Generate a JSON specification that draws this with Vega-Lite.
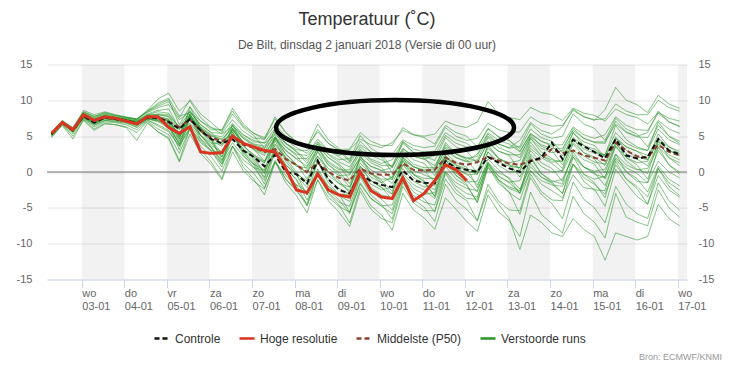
{
"$schema": "https://vega.github.io/schema/vega-lite/v6.json",
"width": 640,
"height": 215,
"autosize": {"type": "none"},
"padding": {"left": 47, "top": 64.5, "right": 45, "bottom": 86.5},
"background": "#ffffff",
"title": {"text": "Temperatuur (˚C)", "subtitle": "De Bilt, dinsdag 2 januari 2018 (Versie di 00 uur)", "anchor": "middle", "frame": "group", "font": "Liberation Sans", "fontSize": 18, "fontWeight": "normal", "color": "#333333", "subtitleFont": "Liberation Sans", "subtitleFontSize": 12, "subtitleColor": "#555555", "offset": 8, "subtitlePadding": 11},
"datasets": {
"bands": [{"a":24,"b":48},{"a":72,"b":96},{"a":120,"b":144},{"a":168,"b":192},{"a":216,"b":240},{"a":264,"b":288},{"a":312,"b":336},{"a":360,"b":384}],
"runs": [
{"s":"Verstoorde runs","m":"a","t":[7,13,19,25,31,37,43,49,55,61,67,73,79,85,91,97,103,109,115,121,127,133,139,145,151,157,163,169,175,181,187,193,199,205,211,217,223,229,235,241,247,253,259,265,271,277,283,289,295,301,307,313,319,325,331,337,343,349,355,361],"v":[5.2,6.8,5.9,8.1,7.3,7.9,7.6,7.4,7.1,8.0,8.4,8.2,6.1,7.6,6.1,5.1,4.6,6.1,4.7,3.8,3.3,4.9,3.5,2.5,2.3,3.9,2.5,1.7,1.9,3.8,2.8,2.3,2.4,4.5,3.7,3.4,3.6,6.2,5.0,4.4,4.7,6.8,5.9,5.5,5.6,7.7,6.8,6.4,6.5,8.6,7.7,7.3,7.4,9.5,8.5,8.0,8.0,10.0,9.0,8.5]},
{"s":"Verstoorde runs","m":"b","t":[7,13,19,25,31,37,43,49,55,61,67,73,79,85,91,97,103,109,115,121,127,133,139,145,151,157,163,169,175,181,187,193,199,205,211,217,223,229,235,241,247,253,259,265,271,277,283,289,295,301,307,313,319,325,331,337,343,349,355,361],"v":[5.4,7.0,6.1,8.4,7.8,8.2,7.9,7.6,7.3,8.5,9.6,10.3,7.8,8.3,6.6,5.5,5.4,7.3,5.7,4.7,4.6,6.6,5.0,3.9,3.6,5.6,4.0,3.1,3.2,5.5,4.3,3.7,3.7,6.2,5.2,4.8,3.9,6.5,5.5,5.0,3.5,6.0,4.9,4.4,2.9,5.4,4.3,3.8,3.8,6.3,5.2,4.7,5.2,7.7,6.5,5.9,5.8,8.2,7.0,6.4]},
{"s":"Verstoorde runs","m":"c","t":[7,13,19,25,31,37,43,49,55,61,67,73,79,85,91,97,103,109,115,121,127,133,139,145,151,157,163,169,175,181,187,193,199,205,211,217,223,229,235,241,247,253,259,265,271,277,283,289,295,301,307,313,319,325,331,337,343,349,355,361],"v":[5.1,6.7,5.6,7.6,6.6,7.2,7.0,6.8,6.3,7.3,6.4,5.6,3.6,8.1,5.1,3.4,1.1,5.6,2.7,1.0,-1.7,2.9,0.0,-1.8,-4.7,-0.1,-3.0,-4.6,-7.1,-2.2,-4.7,-6.0,-8.1,-3.0,-5.3,-6.4,-8.0,-3.6,-5.2,-6.9,-8.3,-3.2,-5.6,-6.8,-9.0,-2.8,-5.9,-7.2,-8.5,-3.4,-5.8,-7.0,-9.2,-3.0,-6.3,-7.0,-7.5,-2.5,-5.0,-6.3]},
{"s":"Verstoorde runs","m":"d","t":[7,13,19,25,31,37,43,49,55,61,67,73,79,85,91,97,103,109,115,121,127,133,139,145,151,157,163,169,175,181,187,193,199,205,211,217,223,229,235,241,247,253,259,265,271,277,283,289,295,301,307,313,319,325,331,337,343,349,355,361],"v":[5.3,6.9,5.8,7.9,7.0,7.7,7.5,7.3,6.9,7.8,7.8,7.3,5.1,7.6,5.6,4.4,3.6,6.1,4.2,3.1,2.3,4.9,3.0,1.8,0.8,3.4,1.5,0.5,-0.1,2.8,1.3,0.6,-1.1,2.0,0.7,0.2,-1.4,1.8,0.5,-0.2,-1.8,1.3,-0.1,-0.8,-2.4,0.7,-0.7,-1.4,-1.0,2.1,0.7,0.1,0.4,3.5,2.0,1.3,1.5,4.5,3.0,2.3]},
{"s":"Verstoorde runs","m":"e","t":[7,13,19,25,31,37,43,49,55,61,67,73,79,85,91,97,103,109,115,121,127,133,139,145,151,157,163,169,175,181,187,193,199,205,211,217,223,229,235,241,247,253,259,265,271,277,283,289,295,301,307,313,319,325,331,337,343,349,355,361],"v":[5.2,7.0,5.7,7.7,6.8,7.4,7.2,7.0,6.5,7.4,7.0,6.2,4.1,6.6,4.6,3.4,1.6,4.1,2.2,1.1,0.3,2.9,1.0,-0.3,-1.2,1.4,-0.5,-1.6,-2.1,0.8,-0.7,-1.5,-0.7,2.5,1.1,0.6,0.6,3.8,2.5,1.9,2.2,5.3,3.9,3.3,3.6,6.7,5.3,4.7,5.0,8.1,6.7,6.1,4.4,7.5,6.0,5.3,3.5,6.5,5.0,4.3]},
{"s":"Verstoorde runs","m":"f","t":[7,13,19,25,31,37,43,49,55,61,67,73,79,85,91,97,103,109,115,121,127,133,139,145,151,157,163,169,175,181,187,193,199,205,211,217,223,229,235,241,247,253,259,265,271,277,283,289,295,301,307,313,319,325,331,337,343,349,355,361],"v":[5.5,7.1,6.2,8.6,8.0,8.4,8.0,7.7,7.4,8.6,10.2,11.0,8.5,9.9,7.6,6.2,5.8,8.9,6.7,5.4,4.5,7.7,5.5,4.1,3.5,6.7,4.5,3.3,1.6,5.1,3.3,2.4,0.6,4.3,2.7,2.0,0.3,4.1,2.5,1.7,-0.1,3.6,1.9,1.1,-0.7,3.0,1.3,0.5,-1.3,2.4,0.7,-0.1,-1.9,1.8,0.0,-0.9,-2.8,0.8,-1.0,-1.9]},
{"s":"Verstoorde runs","m":"g","t":[7,13,19,25,31,37,43,49,55,61,67,73,79,85,91,97,103,109,115,121,127,133,139,145,151,157,163,169,175,181,187,193,199,205,211,217,223,229,235,241,247,253,259,265,271,277,283,289,295,301,307,313,319,325,331,337,343,349,355,361],"v":[5.0,6.6,5.3,7.4,6.3,7.0,6.9,6.6,5.9,7.1,6.0,5.2,2.6,6.1,3.6,2.1,0.1,3.6,1.2,-0.2,-2.2,1.4,-1.0,-2.5,-4.7,-1.1,-3.5,-4.8,-5.6,-1.7,-3.7,-4.7,-4.6,-0.5,-2.3,-3.1,-2.9,1.3,-0.5,-1.4,-1.3,2.8,0.9,0.0,0.1,4.2,2.3,1.4,1.5,5.6,3.7,2.8,2.4,6.5,4.5,3.5,3.0,7.0,5.0,4.0]},
{"s":"Verstoorde runs","m":"h","t":[7,13,19,25,31,37,43,49,55,61,67,73,79,85,91,97,103,109,115,121,127,133,139,145,151,157,163,169,175,181,187,193,199,205,211,217,223,229,235,241,247,253,259,265,271,277,283,289,295,301,307,313,319,325,331,337,343,349,355,361],"v":[5.3,6.9,5.9,7.9,7.1,7.7,7.5,7.2,6.9,7.6,7.7,7.1,4.6,9.1,6.1,4.4,2.1,6.6,3.7,2.1,-0.2,4.4,1.5,-0.3,-3.2,1.4,-1.5,-3.1,-5.6,-0.7,-3.2,-4.5,-6.6,-1.5,-3.8,-4.9,-6.9,-1.7,-4.0,-5.2,-6.8,-1.7,-4.1,-5.3,-5.4,-0.3,-2.7,-3.9,-4.0,1.1,-1.3,-2.5,-2.6,2.5,0.0,-1.3,-1.5,3.5,1.0,-0.3]},
{"s":"Verstoorde runs","m":"i","t":[7,13,19,25,31,37,43,49,55,61,67,73,79,85,91,97,103,109,115,121,127,133,139,145,151,157,163,169,175,181,187,193,199,205,211,217,223,229,235,241,247,253,259,265,271,277,283,289,295,301,307,313,319,325,331,337,343,349,355,361],"v":[5.4,7.1,6.0,8.3,7.6,8.1,7.8,7.6,7.4,8.3,9.0,9.4,7.3,8.4,7.1,6.2,5.3,6.4,5.2,4.4,4.0,5.2,4.0,3.1,3.0,4.2,3.0,2.3,3.1,4.6,3.8,3.4,4.1,5.8,5.2,5.0,5.3,7.1,6.5,6.2,7.0,9.8,8.2,7.6,7.3,9.0,8.3,8.0,7.2,8.9,8.2,7.9,7.1,8.8,8.0,7.6,6.7,8.3,7.5,7.1]},
{"s":"Verstoorde runs","m":"j","t":[7,13,19,25,31,37,43,49,55,61,67,73,79,85,91,97,103,109,115,121,127,133,139,145,151,157,163,169,175,181,187,193,199,205,211,217,223,229,235,241,247,253,259,265,271,277,283,289,295,301,307,313,319,325,331,337,343,349,355,361],"v":[5.1,6.8,5.5,7.5,6.5,7.2,7.1,6.9,6.2,7.2,6.6,5.8,3.6,6.1,4.1,2.9,1.1,3.6,1.7,0.6,-1.2,1.4,-0.5,-1.8,-2.7,-0.1,-2.0,-3.1,-3.1,-0.2,-1.7,-2.5,-2.1,1.0,-0.3,-0.9,-0.9,2.3,1.0,0.4,0.2,3.3,1.9,1.3,1.6,4.7,3.3,2.7,3.0,6.1,4.7,4.1,4.0,7.1,5.6,5.0,5.5,8.5,7.0,6.3]},
{"s":"Verstoorde runs","m":"k","t":[7,13,19,25,31,37,43,49,55,61,67,73,79,85,91,97,103,109,115,121,127,133,139,145,151,157,163,169,175,181,187,193,199,205,211,217,223,229,235,241,247,253,259,265,271,277,283,289,295,301,307,313,319,325,331,337,343,349,355,361],"v":[5.3,6.9,5.8,7.8,6.9,7.6,7.4,7.1,6.7,7.5,7.4,6.9,4.6,8.1,5.6,4.1,2.1,5.6,3.2,1.8,-0.2,3.4,1.0,-0.5,-2.2,1.4,-1.0,-2.3,-3.1,0.8,-1.2,-2.2,-3.1,1.0,-0.8,-1.6,-2.5,1.7,-0.2,-1.1,-2.8,1.3,-0.6,-1.5,-2.9,1.2,-0.7,-1.6,-3.0,1.1,-0.8,-1.7,-3.1,1.0,-1.0,-2.0,-3.5,0.5,-1.5,-2.5]},
{"s":"Verstoorde runs","m":"l","t":[7,13,19,25,31,37,43,49,55,61,67,73,79,85,91,97,103,109,115,121,127,133,139,145,151,157,163,169,175,181,187,193,199,205,211,217,223,229,235,241,247,253,259,265,271,277,283,289,295,301,307,313,319,325,331,337,343,349,355,361],"v":[5.4,7.0,6.0,8.0,7.4,7.9,7.6,7.4,7.2,8.1,8.6,8.8,6.0,8.0,6.3,5.2,4.9,6.8,5.2,4.2,4.1,6.1,4.5,3.4,2.6,4.6,3.0,2.1,1.2,3.5,2.3,1.7,0.7,3.2,2.2,1.8,0.9,3.5,2.5,2.0,1.5,4.0,2.9,2.4,2.4,4.9,3.8,3.3,3.3,5.8,4.7,4.2,4.2,6.7,5.5,4.9,4.8,7.2,6.0,5.4]},
{"s":"Verstoorde runs","m":"m","t":[7,13,19,25,31,37,43,49,55,61,67,73,79,85,91,97,103,109,115,121,127,133,139,145,151,157,163,169,175,181,187,193,199,205,211,217,223,229,235,241,247,253,259,265,271,277,283,289,295,301,307,313,319,325,331,337,343,349,355,361],"v":[5.2,6.8,5.6,7.6,6.7,7.4,7.3,7.0,6.5,7.4,7.1,6.4,3.9,7.8,5.1,3.5,1.4,5.3,2.7,1.2,-0.9,3.1,0.5,-1.1,-3.9,0.1,-2.5,-3.9,-5.8,-1.5,-3.7,-4.8,-5.8,-1.3,-3.3,-4.2,-4.6,0.0,-2.0,-3.0,-3.5,1.0,-1.1,-2.1,-2.6,1.9,-0.2,-1.2,-1.7,2.8,0.7,-0.3,-0.8,3.7,1.5,0.4,-0.2,4.2,2.0,0.9]},
{"s":"Verstoorde runs","m":"n","t":[7,13,19,25,31,37,43,49,55,61,67,73,79,85,91,97,103,109,115,121,127,133,139,145,151,157,163,169,175,181,187,193,199,205,211,217,223,229,235,241,247,253,259,265,271,277,283,289,295,301,307,313,319,325,331,337,343,349,355,361],"v":[5.5,7.1,6.1,8.2,7.5,8.0,7.7,7.5,7.4,8.4,9.2,9.8,7.6,10.1,8.1,6.9,5.6,8.1,6.2,5.1,3.3,5.9,4.0,2.8,1.2,3.9,2.0,0.9,-1.1,1.8,0.3,-0.5,-1.6,1.5,0.2,-0.4,-1.0,2.2,0.9,0.2,-0.3,2.8,1.4,0.8,0.6,3.7,2.3,1.7,1.5,4.6,3.2,2.6,2.4,5.5,4.0,3.3,3.0,6.0,4.5,3.8]},
{"s":"Verstoorde runs","m":"o","t":[7,13,19,25,31,37,43,49,55,61,67,73,79,85,91,97,103,109,115,121,127,133,139,145,151,157,163,169,175,181,187,193,199,205,211,217,223,229,235,241,247,253,259,265,271,277,283,289,295,301,307,313,319,325,331,337,343,349,355,361],"v":[5.2,6.8,5.7,7.7,6.8,7.5,7.3,7.0,6.6,7.4,7.2,6.5,3.1,7.6,4.6,2.9,0.7,5.2,2.4,0.6,0.2,4.8,1.9,0.0,-1.7,2.9,0.0,-1.6,-2.6,2.3,-0.2,-1.5,-3.1,2.0,-0.3,-1.4,-3.4,1.8,-0.5,-1.7,-4.3,0.8,-1.6,-2.8,-5.9,-0.8,-3.1,-4.4,-6.5,-1.4,-3.8,-5.0,-7.1,-2.0,-4.5,-5.8,-6.5,-1.5,-4.0,-5.3]},
{"s":"Verstoorde runs","m":"p","t":[7,13,19,25,31,37,43,49,55,61,67,73,79,85,91,97,103,109,115,121,127,133,139,145,151,157,163,169,175,181,187,193,199,205,211,217,223,229,235,241,247,253,259,265,271,277,283,289,295,301,307,313,319,325,331,337,343,349,355,361],"v":[5.3,6.9,5.8,7.9,7.1,7.8,7.5,7.3,7.0,7.9,8.0,7.8,5.9,7.8,6.1,5.0,4.5,6.4,4.9,3.9,3.6,5.6,4.0,2.9,1.6,3.6,2.0,1.1,-0.3,2.0,0.8,0.2,-0.8,1.7,0.7,0.3,0.4,3.0,2.0,1.5,2.5,5.0,3.9,3.4,4.4,6.9,5.8,5.3,6.3,8.8,7.7,7.2,8.7,11.8,10.0,9.4,8.3,10.7,9.5,8.9]},
{"s":"Verstoorde runs","m":"q","t":[7,13,19,25,31,37,43,49,55,61,67,73,79,85,91,97,103,109,115,121,127,133,139,145,151,157,163,169,175,181,187,193,199,205,211,217,223,229,235,241,247,253,259,265,271,277,283,289,295,301,307,313,319,325,331,337,343,349,355,361],"v":[4.9,6.5,4.6,7.3,6.0,6.8,6.6,6.2,4.4,6.8,5.6,4.8,1.6,6.1,3.1,1.4,-0.9,3.6,0.7,-1.0,-3.2,1.4,-1.5,-3.3,-5.7,-1.1,-4.0,-5.6,-7.6,-2.7,-5.2,-6.5,-7.1,-2.0,-4.3,-5.4,-5.4,-0.2,-2.5,-3.7,-3.8,1.3,-1.1,-2.3,-2.9,2.2,-0.2,-1.4,-3.0,2.1,-0.3,-1.5,-3.6,1.5,-1.0,-2.3,-4.5,0.5,-2.0,-3.3]},
{"s":"Verstoorde runs","m":"r","t":[7,13,19,25,31,37,43,49,55,61,67,73,79,85,91,97,103,109,115,121,127,133,139,145,151,157,163,169,175,181,187,193,199,205,211,217,223,229,235,241,247,253,259,265,271,277,283,289,295,301,307,313,319,325,331,337,343,349,355,361],"v":[5.3,6.9,5.8,7.8,7.0,7.6,7.4,7.2,6.8,7.7,7.6,7.1,4.9,7.7,5.9,4.5,2.6,6.1,3.7,2.3,1.3,4.9,2.5,1.0,-0.2,3.4,1.0,-0.3,-2.1,1.8,-0.2,-1.2,-2.7,1.5,-0.4,-1.2,-3.4,0.8,-1.0,-1.9,-4.2,0.6,-1.2,-2.9,-3.9,0.2,-1.7,-2.6,-3.6,-0.4,-2.2,-2.4,-4.8,0.4,-1.6,-3.4,-4.5,-0.5,-2.5,-3.5]},
{"s":"Verstoorde runs","m":"s","t":[7,13,19,25,31,37,43,49,55,61,67,73,79,85,91,97,103,109,115,121,127,133,139,145,151,157,163,169,175,181,187,193,199,205,211,217,223,229,235,241,247,253,259,265,271,277,283,289,295,301,307,313,319,325,331,337,343,349,355,361],"v":[5.4,7.0,5.9,8.0,7.3,7.8,7.6,7.3,7.1,7.9,8.1,8.0,6.3,8.4,6.6,5.5,3.8,5.9,4.2,3.2,1.5,3.7,2.0,0.9,0.0,2.2,0.5,-0.5,-0.4,2.1,0.8,0.2,0.6,3.3,2.2,1.8,2.3,5.1,4.0,3.5,3.4,6.1,4.9,4.4,3.3,6.0,4.8,4.3,2.7,5.4,4.2,3.7,2.1,4.8,3.5,2.9,1.7,4.3,3.0,2.4]},
{"s":"Verstoorde runs","m":"t","t":[7,13,19,25,31,37,43,49,55,61,67,73,79,85,91,97,103,109,115,121,127,133,139,145,151,157,163,169,175,181,187,193,199,205,211,217,223,229,235,241,247,253,259,265,271,277,283,289,295,301,307,313,319,325,331,337,343,349,355,361],"v":[5.2,6.9,5.7,7.8,6.9,7.5,7.3,7.1,6.7,7.5,7.3,6.8,4.3,7.4,5.1,3.7,2.8,5.9,3.7,2.4,1.5,4.7,2.5,1.1,-1.0,2.2,0.0,-1.2,-2.9,0.6,-1.2,-2.1,-3.9,-0.2,-1.8,-2.5,-3.7,0.1,-1.5,-2.3,-2.6,1.1,-0.6,-1.4,-1.2,2.5,0.8,0.0,0.2,3.9,2.2,1.4,1.1,4.8,3.0,2.1,1.7,5.3,3.5,2.6]},
{"s":"Verstoorde runs","m":"u","t":[7,13,19,25,31,37,43,49,55,61,67,73,79,85,91,97,103,109,115,121,127,133,139,145,151,157,163,169,175,181,187,193,199,205,211,217,223,229,235,241,247,253,259,265,271,277,283,289,295,301,307,313,319,325,331,337,343,349,355,361],"v":[4.8,6.6,5.0,7.2,5.8,6.7,6.6,6.3,5.5,7.0,5.6,4.6,1.4,5.3,2.6,1.0,-1.1,2.8,0.2,-1.3,-2.4,1.6,-1.0,-2.6,-4.4,-0.3,-2.9,-4.2,-4.8,-0.5,-2.7,-3.8,-5.3,-0.8,-2.8,-3.7,-5.6,-1.0,-3.0,-4.0,-6.8,-2.5,-4.5,-6.5,-10.8,-6.0,-7.0,-8.5,-9.0,-6.5,-8.0,-9.0,-12.3,-8.5,-9.0,-9.5,-9.0,-4.5,-6.5,-7.5]},
{"s":"Verstoorde runs","m":"v","t":[7,13,19,25,31,37,43,49,55,61,67,73,79,85,91,97,103,109,115,121,127,133,139,145,151,157,163,169,175,181,187,193,199,205,211,217,223,229,235,241,247,253,259,265,271,277,283,289,295,301,307,313,319,325,331,337,343,349,355,361],"v":[5.5,7.2,6.1,8.4,7.7,8.3,7.9,7.6,7.3,8.5,9.4,10.1,6.6,9.1,7.1,5.9,5.9,8.5,6.4,5.4,4.8,7.4,5.5,4.3,3.3,5.9,4.0,3.0,1.4,4.3,2.8,2.1,-0.1,3.0,1.7,1.2,-0.5,2.7,1.3,0.7,-2.2,1.8,0.3,-1.0,-3.0,0.2,-1.2,-1.8,-2.0,1.1,-0.3,-1.0,-0.6,2.5,1.0,0.3,0.5,3.5,2.0,1.3]},
{"s":"Verstoorde runs","m":"w","t":[7,13,19,25,31,37,43,49,55,61,67,73,79,85,91,97,103,109,115,121,127,133,139,145,151,157,163,169,175,181,187,193,199,205,211,217,223,229,235,241,247,253,259,265,271,277,283,289,295,301,307,313,319,325,331,337,343,349,355,361],"v":[5.3,6.9,5.9,7.9,7.2,7.8,7.6,7.3,7.0,7.9,8.0,7.7,5.4,7.9,5.9,4.6,4.1,6.6,4.7,3.6,2.8,5.4,3.5,2.3,0.3,2.9,1.0,0.0,-1.6,1.2,-0.2,-1.0,-1.0,2.1,0.8,0.1,0.1,3.3,2.0,1.4,1.7,4.8,3.4,2.8,2.0,5.2,3.6,3.0,1.0,4.1,2.7,2.1,0.9,4.0,2.5,1.8,0.9,3.9,2.4,1.7]},
{"s":"Verstoorde runs","m":"x","t":[7,13,19,25,31,37,43,49,55,61,67,73,79,85,91,97,103,109,115,121,127,133,139,145,151,157,163,169,175,181,187,193,199,205,211,217,223,229,235,241,247,253,259,265,271,277,283,289,295,301,307,313,319,325,331,337,343,349,355,361],"v":[5.2,6.8,5.7,7.7,6.7,7.5,7.3,7.0,6.6,7.5,7.2,6.7,3.8,6.2,4.3,3.0,2.6,5.1,3.2,2.1,1.3,3.9,2.0,0.8,0.6,3.3,1.3,0.3,0.3,3.2,1.6,0.9,0.9,4.0,2.7,2.2,1.6,4.8,3.5,2.9,1.2,4.3,2.9,2.3,0.2,3.3,2.0,1.2,0.0,3.1,1.7,1.1,-1.0,2.0,0.6,-0.2,-1.5,1.5,0.0,-0.8]},
{"s":"Verstoorde runs","m":"y","t":[7,13,19,25,31,37,43,49,55,61,67,73,79,85,91,97,103,109,115,121,127,133,139,145,151,157,163,169,175,181,187,193,199,205,211,217,223,229,235,241,247,253,259,265,271,277,283,289,295,301,307,313,319,325,331,337,343,349,355,361],"v":[5.3,6.9,5.8,7.8,7.0,7.6,7.4,7.2,6.9,7.7,7.6,7.2,5.1,8.6,6.1,4.6,1.7,5.2,2.9,1.5,-0.7,2.9,0.5,-1.0,-3.2,0.4,-2.0,-3.3,-4.1,-0.2,-2.2,-3.2,-3.6,0.5,-1.3,-2.1,-1.9,2.3,0.5,-0.4,-0.3,3.8,1.9,1.0,0.6,4.7,2.8,1.9,0.5,4.6,2.7,1.8,-0.1,4.0,2.0,1.0,-1.0,3.0,1.0,0.0]},
{"s":"Verstoorde runs","m":"z","t":[7,13,19,25,31,37,43,49,55,61,67,73,79,85,91,97,103,109,115,121,127,133,139,145,151,157,163,169,175,181,187,193,199,205,211,217,223,229,235,241,247,253,259,265,271,277,283,289,295,301,307,313,319,325,331,337,343,349,355,361],"v":[5.2,6.9,5.8,7.8,6.9,7.6,7.5,7.2,6.8,7.7,7.7,7.4,4.9,6.8,5.1,4.0,3.9,5.8,4.2,3.2,2.6,4.6,3.0,1.9,1.9,4.1,2.4,1.4,0.7,3.0,1.8,1.2,1.7,4.2,3.2,2.8,2.9,5.5,4.5,4.0,3.0,5.5,4.4,3.9,2.8,5.3,4.3,3.6,2.3,4.8,3.7,3.2,2.2,4.7,3.5,2.9,2.3,4.7,3.5,2.9]},
{"s":"Middelste (P50)","m":"p50","t":[7,13,19,25,31,37,43,49,55,61,67,73,79,85,91,97,103,109,115,121,127,133,139,145,151,157,163,169,175,181,187,193,199,205,211,217,223,229,235,241,247,253,259,265,271,277,283,289,295,301,307,313,319,325,331,337,343,349,355,361],"v":[5.3,6.9,5.8,7.8,7.2,7.6,7.4,7.1,6.7,7.6,7.6,7.0,6.3,7.3,5.8,4.8,4.3,5.0,3.8,3.4,2.8,3.2,1.8,1.0,0.0,1.3,0.0,-0.8,-1.2,0.5,-0.2,-0.4,-0.4,1.2,0.3,0.2,0.3,2.0,1.3,1.0,1.4,2.1,1.6,1.2,1.0,1.6,1.8,3.2,2.6,3.0,2.3,2.0,1.6,4.1,3.0,2.2,2.0,3.8,2.8,2.3]},
{"s":"Controle","m":"ctl","t":[7,13,19,25,31,37,43,49,55,61,67,73,79,85,91,97,103,109,115,121,127,133,139,145,151,157,163,169,175,181,187,193,199,205,211,217,223,229,235,241,247,253,259,265,271,277,283,289,295,301,307,313,319,325,331,337,343,349,355,361],"v":[5.3,6.9,5.8,7.8,6.9,7.6,7.4,7.2,6.8,7.6,7.5,7.0,6.0,7.4,5.8,4.6,4.0,4.6,3.0,2.1,0.8,2.4,0.0,-0.3,-1.6,1.6,-1.0,-2.5,-3.0,-0.2,-1.3,-1.8,-2.1,0.2,-1.2,-1.5,-1.6,1.5,0.6,0.3,0.0,2.1,1.3,0.5,0.0,1.5,2.0,4.1,1.8,4.5,3.6,2.8,1.9,4.6,2.3,1.9,2.1,4.6,3.0,2.5]},
{"s":"Hoge resolutie","m":"hr","t":[7,13,19,25,31,37,43,49,55,61,67,73,79,85,91,97,103,109,115,121,127,133,139,145,151,157,163,169,175,181,187,193,199,205,211,217,223,229,235,241],"v":[5.4,6.9,5.9,8.0,7.2,7.7,7.5,7.1,6.7,7.7,7.7,6.2,5.4,6.3,2.8,2.6,2.7,5.0,4.0,3.5,3.0,2.8,0.5,-2.5,-2.9,-0.3,-2.5,-3.2,-3.5,0.0,-2.6,-3.5,-3.7,-0.8,-4.0,-3.0,-1.2,1.0,0.3,-1.2]}
]
},
"layer": [
{"data": {"name": "bands"},
 "mark": {"type": "rect", "color": "#000000", "opacity": 0.05, "clip": true},
 "encoding": {
  "x": {"field": "a", "type": "quantitative", "title": null, "scale": {"domain": [4.4, 365.2], "nice": false, "zero": false},
   "axis": {"values": [24,48,72,96,120,144,168,192,216,240,264,288,312,336,360], "labelExpr": "[['wo','03-01'],['do','04-01'],['vr','05-01'],['za','06-01'],['zo','07-01'],['ma','08-01'],['di','09-01'],['wo','10-01'],['do','11-01'],['vr','12-01'],['za','13-01'],['zo','14-01'],['ma','15-01'],['di','16-01'],['wo','17-01']][datum.value/24-1]", "labelAlign": "left", "labelBaseline": "top", "labelPadding": 0, "tickSize": 8, "tickColor": "#ccd6eb", "domainColor": "#ccd6eb", "labelLineHeight": 12.5, "labelFlush": false, "labelOverlap": false, "labelBound": false, "grid": false, "title": null}},
  "x2": {"field": "b"}
 }},
{"data": {"values": [{}]},
 "mark": {"type": "rule", "color": "#707070", "strokeWidth": 1.2},
 "encoding": {"y": {"datum": 0, "type": "quantitative", "axis": null}}},
{"data": {"name": "runs"},
 "transform": [{"filter": "datum.s === 'Verstoorde runs'"}, {"flatten": ["t", "v"]}],
 "mark": {"type": "line", "strokeWidth": 1, "opacity": 0.62},
 "encoding": {
  "x": {"field": "t", "type": "quantitative", "title": null},
  "y": {"field": "v", "type": "quantitative", "title": null, "scale": {"domain": [-15, 15], "nice": false, "zero": false},
   "axis": {"orient": "left", "values": [-15,-10,-5,0,5,10,15], "grid": true, "gridColor": "#e6e6e6", "domain": false, "ticks": false, "labelPadding": 15, "labelExpr": "'' + datum.value", "title": null}},
  "color": {"field": "s", "type": "nominal", "title": null, "scale": {"domain": ["Controle", "Hoge resolutie", "Middelste (P50)", "Verstoorde runs"], "range": ["#111111", "#d9341f", "#8e4232", "#2a962a"]}},
  "strokeDash": {"field": "s", "type": "nominal", "title": null, "scale": {"domain": ["Controle", "Hoge resolutie", "Middelste (P50)", "Verstoorde runs"], "range": [[5,3],[1,0],[5,3],[1,0]]}},
  "detail": {"field": "m"}
 }},
{"data": {"name": "runs"},
 "transform": [{"filter": "datum.s === 'Middelste (P50)'"}, {"flatten": ["t", "v"]}],
 "mark": {"type": "line", "strokeWidth": 2},
 "encoding": {
  "x": {"field": "t", "type": "quantitative", "title": null},
  "y": {"field": "v", "type": "quantitative", "title": null,
   "axis": {"orient": "right", "values": [-15,-10,-5,0,5,10,15], "grid": false, "domain": false, "ticks": false, "labelPadding": 11, "labelExpr": "'' + datum.value", "title": null}},
  "color": {"field": "s", "type": "nominal", "title": null},
  "strokeDash": {"field": "s", "type": "nominal", "title": null}
 }},
{"data": {"name": "runs"},
 "transform": [{"filter": "datum.s === 'Controle'"}, {"flatten": ["t", "v"]}],
 "mark": {"type": "line", "strokeWidth": 2},
 "encoding": {
  "x": {"field": "t", "type": "quantitative", "title": null},
  "y": {"field": "v", "type": "quantitative", "title": null, "axis": null},
  "color": {"field": "s", "type": "nominal", "title": null},
  "strokeDash": {"field": "s", "type": "nominal", "title": null}
 }},
{"data": {"name": "runs"},
 "transform": [{"filter": "datum.s === 'Hoge resolutie'"}, {"flatten": ["t", "v"]}],
 "mark": {"type": "line", "strokeWidth": 3},
 "encoding": {
  "x": {"field": "t", "type": "quantitative", "title": null},
  "y": {"field": "v", "type": "quantitative", "title": null, "axis": null},
  "color": {"field": "s", "type": "nominal", "title": null},
  "strokeDash": {"field": "s", "type": "nominal", "title": null}
 }},
{"data": {"values": [{}]},
 "mark": {"type": "point", "shape": "M-1,0A1,0.231,0,1,1,1,0A1,0.231,0,1,1,-1,0Z", "size": 56644, "filled": false, "color": "#000000", "strokeWidth": 4.5, "opacity": 1, "clip": false},
 "encoding": {"x": {"datum": 200.6, "type": "quantitative"}, "y": {"datum": 6.2, "type": "quantitative", "axis": null}}},
{"data": {"values": [{}]},
 "mark": {"type": "text", "text": "Bron: ECMWF/KNMI", "align": "right", "baseline": "middle", "fontSize": 9, "color": "#999999", "font": "Liberation Sans", "clip": false},
 "encoding": {"x": {"datum": 385, "type": "quantitative"}, "y": {"datum": -25.8, "type": "quantitative", "axis": null}}}
],
"resolve": {"axis": {"y": "independent"}},
"config": {
 "view": {"stroke": null},
 "font": "Liberation Sans",
 "axis": {"labelFont": "Liberation Sans", "labelColor": "#666666", "labelFontSize": 11},
 "legend": {"orient": "none", "legendX": 106, "legendY": 265, "direction": "horizontal", "symbolType": "stroke", "symbolSize": 225, "symbolStrokeWidth": 2.5, "symbolOpacity": 1, "labelFont": "Liberation Sans", "labelFontSize": 12, "labelColor": "#333333", "labelOffset": 4, "columnPadding": 13, "padding": 0}
}
}
